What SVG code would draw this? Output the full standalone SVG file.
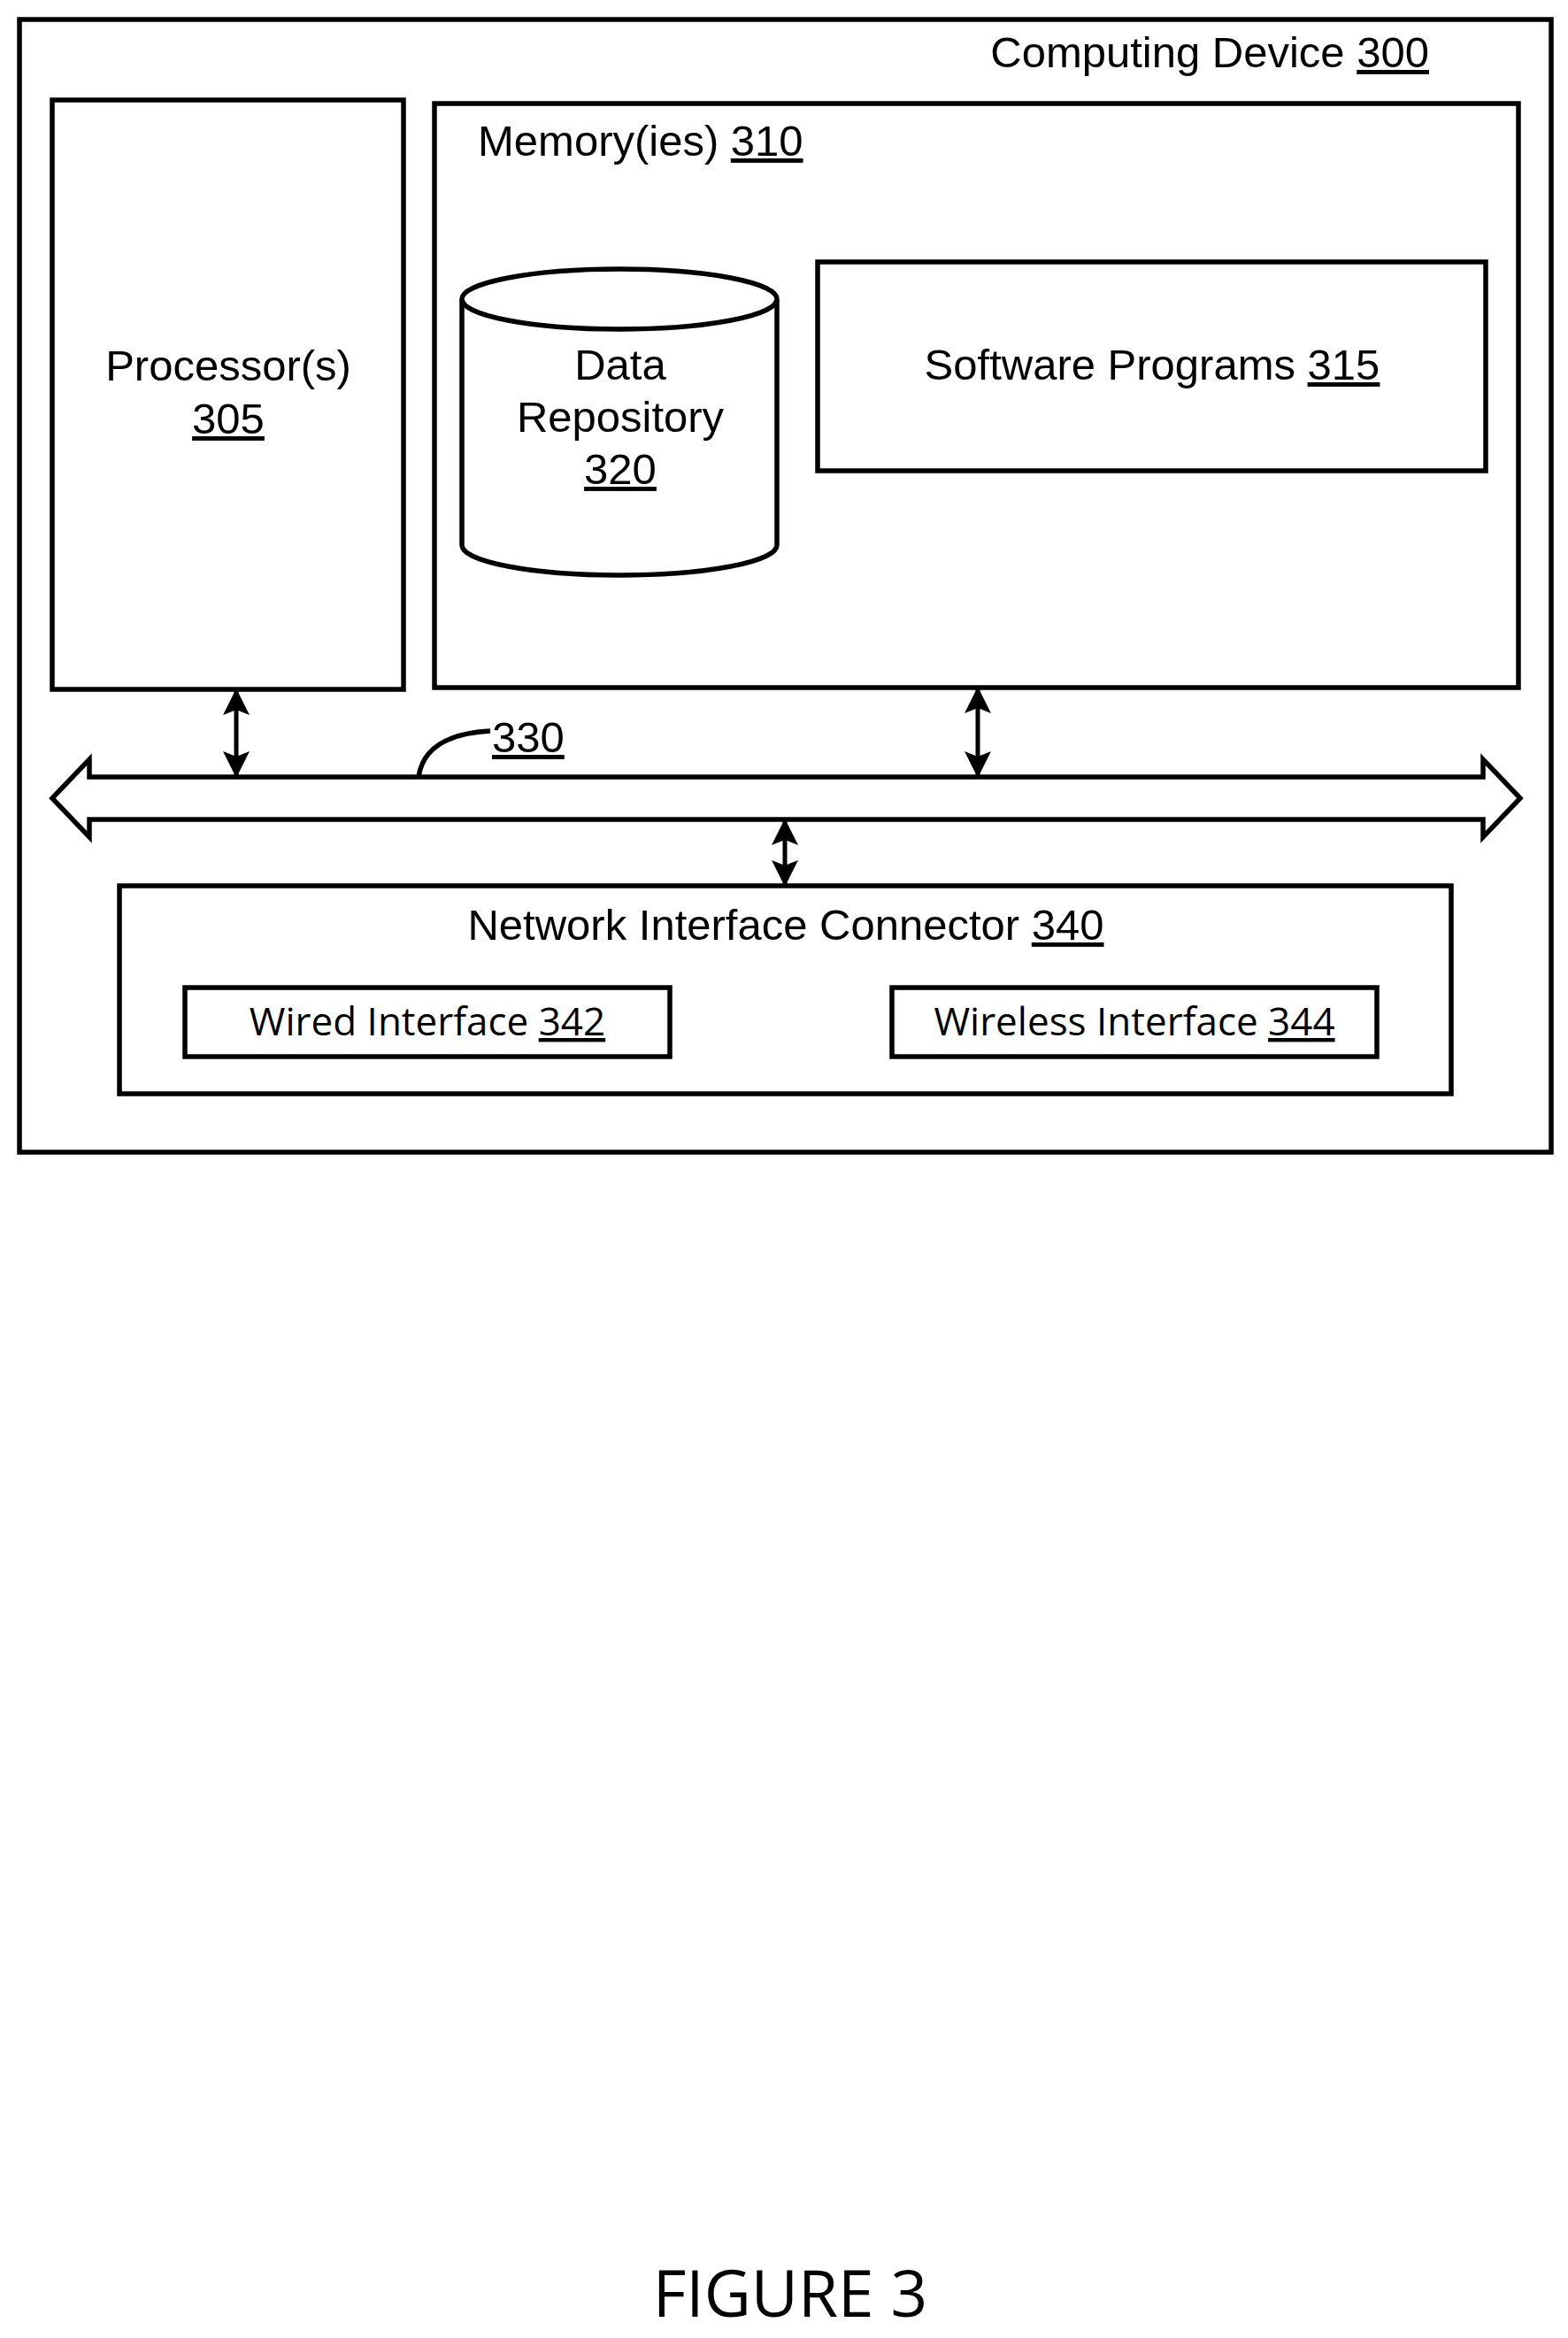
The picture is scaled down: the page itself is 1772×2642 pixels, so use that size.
<svg xmlns="http://www.w3.org/2000/svg" width="1772" height="2642" viewBox="0 0 1772 2642">
<style>
.b{fill:none;stroke:#000;stroke-width:5.5}
.t{font-family:"Liberation Sans",Arial,sans-serif;font-size:49px;fill:#000}
.s{font-family:"Open Sans","Liberation Sans",sans-serif;font-size:44px;fill:#000}
.u{text-decoration:underline}
.c{text-anchor:middle}
</style>
<defs><marker id="ah" viewBox="0 0 10 10" refX="9" refY="5" markerWidth="6" markerHeight="6" orient="auto-start-reverse"><path d="M0,0L10,5L0,10L2,5z" fill="#000"/></marker></defs>
<rect width="1772" height="2642" fill="#fff"/>
<g id="device"><rect class="b" x="22" y="22" width="1731" height="1280"/><text class="t" x="1615" y="76" text-anchor="end">Computing Device <tspan class="u">300</tspan></text></g>
<g id="processor"><rect class="b" x="59" y="113" width="397" height="666"/><text class="t c" x="258" y="430">Processor(s)</text><text class="t c u" x="258" y="490">305</text></g>
<g id="memory"><rect class="b" x="491" y="117" width="1225" height="660"/><text class="t" x="540" y="176">Memory(ies) <tspan class="u">310</tspan></text></g>
<g id="repo"><path class="b" d="M522,338 V616 A178,34 0 0 0 878,616 V338 A178,34 0 0 0 522,338 A178,34 0 0 0 878,338"/><text class="t c" x="701" y="429">Data</text><text class="t c" x="701" y="488">Repository</text><text class="t c u" x="701" y="547">320</text></g>
<g id="software"><rect class="b" x="924" y="296" width="755" height="236"/><text class="t c" x="1302" y="429">Software Programs <tspan class="u">315</tspan></text></g>
<g id="bus"><path class="b" d="M101,878 H1676 V858 L1718,902 L1676,946 V926 H101 V946 L59,902 L101,858 Z" fill="#fff"/><path class="b" d="M473,878 Q480,830 554,826"/><text class="t u" x="556" y="850">330</text></g>
<g id="nic"><rect class="b" x="135" y="1001" width="1505" height="235"/><text class="t c" x="888" y="1062">Network Interface Connector <tspan class="u">340</tspan></text></g>
<g id="wired"><rect class="b" x="209" y="1116" width="548" height="78"/><text class="s c" x="483" y="1170">Wired Interface <tspan class="u">342</tspan></text></g>
<g id="wireless"><rect class="b" x="1008" y="1116" width="548" height="78"/><text class="s c" x="1282" y="1170">Wireless Interface <tspan class="u">344</tspan></text></g>
<g id="connectors" stroke="#000" stroke-width="5" marker-start="url(#ah)" marker-end="url(#ah)">
<line x1="267" y1="781" x2="267" y2="876"/><line x1="1105" y1="779" x2="1105" y2="876"/><line x1="887" y1="928" x2="887" y2="999"/>
</g>
<text x="893" y="2618" class="c" font-family="'Open Sans','Liberation Sans',sans-serif" font-size="73">FIGURE 3</text>
</svg>
